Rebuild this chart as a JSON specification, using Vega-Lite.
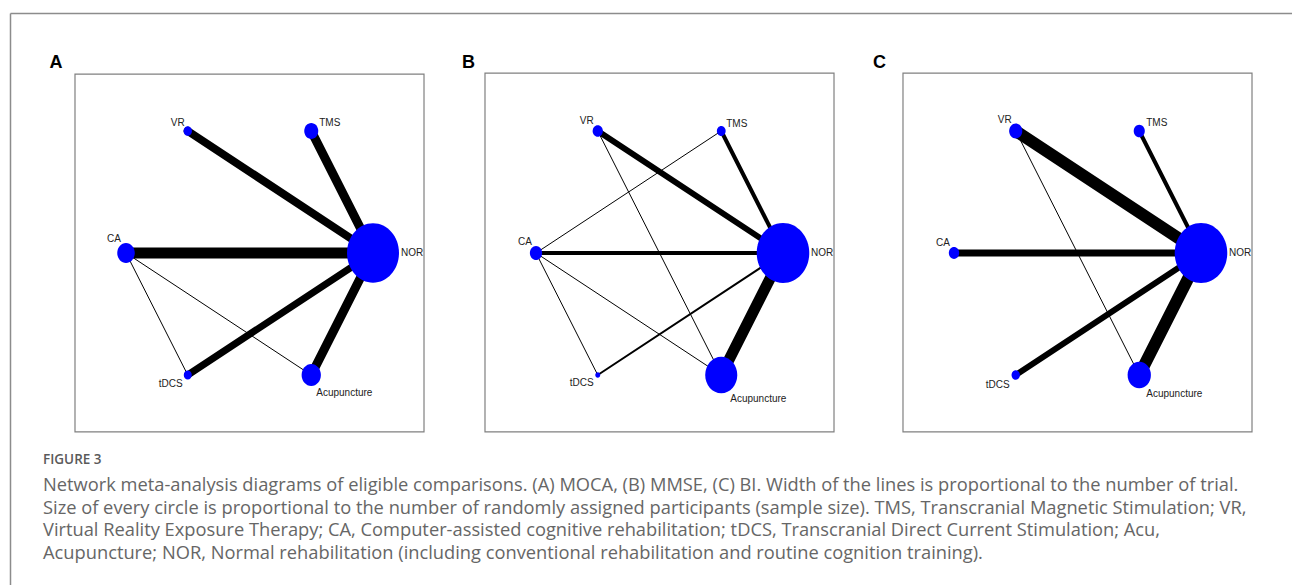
{
  "$schema": "https://vega.github.io/schema/vega-lite/v6.json",
  "width": 1292,
  "height": 585,
  "autosize": {"type": "fit", "contains": "padding"},
  "padding": {"left": 10, "top": 13, "right": 0, "bottom": 0},
  "background": "white",
  "config": {"view": {"stroke": null}},
  "datasets": {
    "layout": [
      {"node": "NOR", "x": 1, "y": 0},
      {"node": "TMS", "x": 0.5, "y": 0.866},
      {"node": "VR", "x": -0.5, "y": 0.866},
      {"node": "CA", "x": -1, "y": 0},
      {"node": "tDCS", "x": -0.5, "y": -0.866},
      {"node": "Acupuncture", "x": 0.5, "y": -0.866}
    ],
    "nodes": [
      {"panel": "A", "node": "NOR", "n": 880},
      {"panel": "A", "node": "TMS", "n": 64},
      {"panel": "A", "node": "VR", "n": 23},
      {"panel": "A", "node": "CA", "n": 100},
      {"panel": "A", "node": "tDCS", "n": 21},
      {"panel": "A", "node": "Acupuncture", "n": 121},
      {"panel": "B", "node": "NOR", "n": 900},
      {"panel": "B", "node": "TMS", "n": 25},
      {"panel": "B", "node": "VR", "n": 34},
      {"panel": "B", "node": "CA", "n": 49},
      {"panel": "B", "node": "tDCS", "n": 8},
      {"panel": "B", "node": "Acupuncture", "n": 335},
      {"panel": "C", "node": "NOR", "n": 900},
      {"panel": "C", "node": "TMS", "n": 40},
      {"panel": "C", "node": "VR", "n": 56},
      {"panel": "C", "node": "CA", "n": 35},
      {"panel": "C", "node": "tDCS", "n": 23},
      {"panel": "C", "node": "Acupuncture", "n": 177}
    ],
    "edges": [
      {"panel": "A", "from": "VR", "to": "NOR", "trials": 8},
      {"panel": "A", "from": "TMS", "to": "NOR", "trials": 9},
      {"panel": "A", "from": "CA", "to": "NOR", "trials": 11},
      {"panel": "A", "from": "tDCS", "to": "NOR", "trials": 7},
      {"panel": "A", "from": "Acupuncture", "to": "NOR", "trials": 9},
      {"panel": "A", "from": "CA", "to": "tDCS", "trials": 1},
      {"panel": "A", "from": "CA", "to": "Acupuncture", "trials": 1},
      {"panel": "B", "from": "VR", "to": "NOR", "trials": 6},
      {"panel": "B", "from": "TMS", "to": "NOR", "trials": 4},
      {"panel": "B", "from": "CA", "to": "NOR", "trials": 4},
      {"panel": "B", "from": "tDCS", "to": "NOR", "trials": 2},
      {"panel": "B", "from": "Acupuncture", "to": "NOR", "trials": 11},
      {"panel": "B", "from": "CA", "to": "TMS", "trials": 1},
      {"panel": "B", "from": "CA", "to": "tDCS", "trials": 1},
      {"panel": "B", "from": "CA", "to": "Acupuncture", "trials": 1},
      {"panel": "B", "from": "VR", "to": "Acupuncture", "trials": 1},
      {"panel": "C", "from": "VR", "to": "NOR", "trials": 12},
      {"panel": "C", "from": "TMS", "to": "NOR", "trials": 4},
      {"panel": "C", "from": "CA", "to": "NOR", "trials": 7},
      {"panel": "C", "from": "tDCS", "to": "NOR", "trials": 6},
      {"panel": "C", "from": "Acupuncture", "to": "NOR", "trials": 12},
      {"panel": "C", "from": "VR", "to": "Acupuncture", "trials": 1}
    ],
    "caption": [
      {"line": 1, "text": "Network meta-analysis diagrams of eligible comparisons. (A) MOCA, (B) MMSE, (C) BI. Width of the lines is proportional to the number of trial."},
      {"line": 2, "text": "Size of every circle is proportional to the number of randomly assigned participants (sample size). TMS, Transcranial Magnetic Stimulation; VR,"},
      {"line": 3, "text": "Virtual Reality Exposure Therapy; CA, Computer-assisted cognitive rehabilitation; tDCS, Transcranial Direct Current Stimulation; Acu,"},
      {"line": 4, "text": "Acupuncture; NOR, Normal rehabilitation (including conventional rehabilitation and routine cognition training)."}
    ]
  },
  "resolve": {"scale": {"x": "independent", "y": "independent"}},
  "layer": [
    {
      "layer": [
        {
          "data": {"values": [{"line": 0, "text": "FIGURE 3"}]},
          "mark": {"type": "text", "align": "left", "baseline": "middle", "font": "Open Sans", "fontSize": 13.5, "fontWeight": 600, "color": "#5a5a5a", "dy": -3},
          "encoding": {
            "x": {"datum": 0, "type": "quantitative", "scale": {"domain": [-33, 1249], "nice": false, "zero": false},
                  "axis": {"orient": "top", "domain": true, "domainColor": "#8c8c8c", "domainWidth": 1.5, "ticks": false, "labels": false, "grid": false, "title": null}},
            "y": {"field": "line", "type": "quantitative", "scale": {"domain": [-19.929, 5.381], "reverse": true, "nice": false, "zero": false},
                  "axis": {"orient": "left", "domain": true, "domainColor": "#8c8c8c", "domainWidth": 1.5, "ticks": false, "labels": false, "grid": false, "title": null}},
            "text": {"field": "text"}
          }
        },
        {
          "data": {"name": "caption"},
          "mark": {"type": "text", "align": "left", "baseline": "middle", "font": "Open Sans", "fontSize": 18.3, "color": "#666666"},
          "encoding": {
            "x": {"datum": 0, "type": "quantitative", "scale": {"domain": [-33, 1249], "nice": false, "zero": false}},
            "y": {"field": "line", "type": "quantitative", "scale": {"domain": [-19.929, 5.381], "reverse": true, "nice": false, "zero": false}},
            "text": {"field": "text"}
          }
        }
      ]
    },
    {
      "layer": [
        {"data": {"values": [{}]}, "mark": {"type": "rect", "fill": "transparent", "stroke": "#808080", "strokeWidth": 1.2},
         "encoding": {"x": {"datum": -1.413, "type": "quantitative", "scale": {"domain": [-1.93927, 8.4413], "nice": false, "zero": false}, "axis": null}, "x2": {"datum": 1.413},
                      "y": {"datum": 1.27, "type": "quantitative", "scale": {"domain": [-2.35628, 1.70334], "nice": false, "zero": false}, "axis": null}, "y2": {"datum": -1.27}}},
        {"data": {"values": [{}]}, "mark": {"type": "text", "text": "A", "font": "Liberation Sans", "fontWeight": "bold", "fontSize": 18, "align": "center", "baseline": "middle", "color": "black"},
         "encoding": {"x": {"datum": -1.567, "type": "quantitative"}, "y": {"datum": 1.348, "type": "quantitative"}}},
        {"data": {"name": "edges"},
         "transform": [{"filter": "datum.panel == 'A'"},
                       {"lookup": "from", "from": {"data": {"name": "layout"}, "key": "node", "fields": ["x", "y"]}, "as": ["x1", "y1"]},
                       {"lookup": "to", "from": {"data": {"name": "layout"}, "key": "node", "fields": ["x", "y"]}, "as": ["x2", "y2"]}],
         "mark": {"type": "rule", "color": "black", "strokeCap": "round"},
         "encoding": {"x": {"field": "x1", "type": "quantitative"}, "y": {"field": "y1", "type": "quantitative"}, "x2": {"field": "x2"}, "y2": {"field": "y2"},
                      "strokeWidth": {"field": "trials", "type": "quantitative", "scale": {"domain": [0, 12], "range": [0, 12]}, "legend": null}}},
        {"data": {"name": "nodes"},
         "transform": [{"filter": "datum.panel == 'A'"}, {"lookup": "node", "from": {"data": {"name": "layout"}, "key": "node", "fields": ["x", "y"]}}],
         "mark": {"type": "point", "filled": true, "color": "#0000ff", "opacity": 1, "strokeWidth": 0,
                  "shape": "M0.876,0C0.876,0.552,0.484,1,0,1C-0.484,1,-0.876,0.552,-0.876,0C-0.876,-0.552,-0.484,-1,0,-1C0.484,-1,0.876,-0.552,0.876,0Z"},
         "encoding": {"x": {"field": "x", "type": "quantitative"}, "y": {"field": "y", "type": "quantitative"},
                      "size": {"field": "n", "type": "quantitative", "scale": {"domain": [0, 1000], "range": [0, 4000]}, "legend": null}}},
        {"data": {"name": "layout"}, "transform": [{"filter": "datum.node == 'VR'"}],
         "mark": {"type": "text", "font": "Liberation Sans", "fontSize": 10, "color": "#222222", "align": "right", "baseline": "middle", "dx": -3, "dy": -8},
         "encoding": {"x": {"field": "x", "type": "quantitative"}, "y": {"field": "y", "type": "quantitative"}, "text": {"field": "node"}}},
        {"data": {"name": "layout"}, "transform": [{"filter": "datum.node == 'TMS'"}],
         "mark": {"type": "text", "font": "Liberation Sans", "fontSize": 10, "color": "#222222", "align": "left", "baseline": "middle", "dx": 8, "dy": -8},
         "encoding": {"x": {"field": "x", "type": "quantitative"}, "y": {"field": "y", "type": "quantitative"}, "text": {"field": "node"}}},
        {"data": {"name": "layout"}, "transform": [{"filter": "datum.node == 'CA'"}],
         "mark": {"type": "text", "font": "Liberation Sans", "fontSize": 10, "color": "#222222", "align": "right", "baseline": "middle", "dx": -5, "dy": -14},
         "encoding": {"x": {"field": "x", "type": "quantitative"}, "y": {"field": "y", "type": "quantitative"}, "text": {"field": "node"}}},
        {"data": {"name": "layout"}, "transform": [{"filter": "datum.node == 'NOR'"}],
         "mark": {"type": "text", "font": "Liberation Sans", "fontSize": 10, "color": "#222222", "align": "left", "baseline": "middle", "dx": 28, "dy": 0},
         "encoding": {"x": {"field": "x", "type": "quantitative"}, "y": {"field": "y", "type": "quantitative"}, "text": {"field": "node"}}},
        {"data": {"name": "layout"}, "transform": [{"filter": "datum.node == 'tDCS'"}],
         "mark": {"type": "text", "font": "Liberation Sans", "fontSize": 10, "color": "#222222", "align": "right", "baseline": "middle", "dx": -5, "dy": 9},
         "encoding": {"x": {"field": "x", "type": "quantitative"}, "y": {"field": "y", "type": "quantitative"}, "text": {"field": "node"}}},
        {"data": {"name": "layout"}, "transform": [{"filter": "datum.node == 'Acupuncture'"}],
         "mark": {"type": "text", "font": "Liberation Sans", "fontSize": 10, "color": "#222222", "align": "left", "baseline": "middle", "dx": 5, "dy": 18},
         "encoding": {"x": {"field": "x", "type": "quantitative"}, "y": {"field": "y", "type": "quantitative"}, "text": {"field": "node"}}}
      ]
    },
    {
      "layer": [
        {"data": {"values": [{}]}, "mark": {"type": "rect", "fill": "transparent", "stroke": "#808080", "strokeWidth": 1.2},
         "encoding": {"x": {"datum": -1.413, "type": "quantitative", "scale": {"domain": [-5.25911, 5.12146], "nice": false, "zero": false}, "axis": null}, "x2": {"datum": 1.413},
                      "y": {"datum": 1.277, "type": "quantitative", "scale": {"domain": [-2.35628, 1.70334], "nice": false, "zero": false}, "axis": null}, "y2": {"datum": -1.27}}},
        {"data": {"values": [{}]}, "mark": {"type": "text", "text": "B", "font": "Liberation Sans", "fontWeight": "bold", "fontSize": 18, "align": "center", "baseline": "middle", "color": "black"},
         "encoding": {"x": {"datum": -1.547, "type": "quantitative"}, "y": {"datum": 1.348, "type": "quantitative"}}},
        {"data": {"name": "edges"},
         "transform": [{"filter": "datum.panel == 'B'"},
                       {"lookup": "from", "from": {"data": {"name": "layout"}, "key": "node", "fields": ["x", "y"]}, "as": ["x1", "y1"]},
                       {"lookup": "to", "from": {"data": {"name": "layout"}, "key": "node", "fields": ["x", "y"]}, "as": ["x2", "y2"]}],
         "mark": {"type": "rule", "color": "black", "strokeCap": "round"},
         "encoding": {"x": {"field": "x1", "type": "quantitative"}, "y": {"field": "y1", "type": "quantitative"}, "x2": {"field": "x2"}, "y2": {"field": "y2"},
                      "strokeWidth": {"field": "trials", "type": "quantitative", "scale": {"domain": [0, 12], "range": [0, 12]}, "legend": null}}},
        {"data": {"name": "nodes"},
         "transform": [{"filter": "datum.panel == 'B'"}, {"lookup": "node", "from": {"data": {"name": "layout"}, "key": "node", "fields": ["x", "y"]}}],
         "mark": {"type": "point", "filled": true, "color": "#0000ff", "opacity": 1, "strokeWidth": 0,
                  "shape": "M0.876,0C0.876,0.552,0.484,1,0,1C-0.484,1,-0.876,0.552,-0.876,0C-0.876,-0.552,-0.484,-1,0,-1C0.484,-1,0.876,-0.552,0.876,0Z"},
         "encoding": {"x": {"field": "x", "type": "quantitative"}, "y": {"field": "y", "type": "quantitative"},
                      "size": {"field": "n", "type": "quantitative", "scale": {"domain": [0, 1000], "range": [0, 4000]}, "legend": null}}},
        {"data": {"name": "layout"}, "transform": [{"filter": "datum.node == 'VR'"}],
         "mark": {"type": "text", "font": "Liberation Sans", "fontSize": 10, "color": "#222222", "align": "right", "baseline": "middle", "dx": -4, "dy": -10},
         "encoding": {"x": {"field": "x", "type": "quantitative"}, "y": {"field": "y", "type": "quantitative"}, "text": {"field": "node"}}},
        {"data": {"name": "layout"}, "transform": [{"filter": "datum.node == 'TMS'"}],
         "mark": {"type": "text", "font": "Liberation Sans", "fontSize": 10, "color": "#222222", "align": "left", "baseline": "middle", "dx": 5, "dy": -7},
         "encoding": {"x": {"field": "x", "type": "quantitative"}, "y": {"field": "y", "type": "quantitative"}, "text": {"field": "node"}}},
        {"data": {"name": "layout"}, "transform": [{"filter": "datum.node == 'CA'"}],
         "mark": {"type": "text", "font": "Liberation Sans", "fontSize": 10, "color": "#222222", "align": "right", "baseline": "middle", "dx": -4, "dy": -11},
         "encoding": {"x": {"field": "x", "type": "quantitative"}, "y": {"field": "y", "type": "quantitative"}, "text": {"field": "node"}}},
        {"data": {"name": "layout"}, "transform": [{"filter": "datum.node == 'NOR'"}],
         "mark": {"type": "text", "font": "Liberation Sans", "fontSize": 10, "color": "#222222", "align": "left", "baseline": "middle", "dx": 28, "dy": 0},
         "encoding": {"x": {"field": "x", "type": "quantitative"}, "y": {"field": "y", "type": "quantitative"}, "text": {"field": "node"}}},
        {"data": {"name": "layout"}, "transform": [{"filter": "datum.node == 'tDCS'"}],
         "mark": {"type": "text", "font": "Liberation Sans", "fontSize": 10, "color": "#222222", "align": "right", "baseline": "middle", "dx": -4, "dy": 8},
         "encoding": {"x": {"field": "x", "type": "quantitative"}, "y": {"field": "y", "type": "quantitative"}, "text": {"field": "node"}}},
        {"data": {"name": "layout"}, "transform": [{"filter": "datum.node == 'Acupuncture'"}],
         "mark": {"type": "text", "font": "Liberation Sans", "fontSize": 10, "color": "#222222", "align": "left", "baseline": "middle", "dx": 9, "dy": 24},
         "encoding": {"x": {"field": "x", "type": "quantitative"}, "y": {"field": "y", "type": "quantitative"}, "text": {"field": "node"}}}
      ]
    },
    {
      "layer": [
        {"data": {"values": [{}]}, "mark": {"type": "rect", "fill": "transparent", "stroke": "#808080", "strokeWidth": 1.2},
         "encoding": {"x": {"datum": -1.413, "type": "quantitative", "scale": {"domain": [-8.64372, 1.73685], "nice": false, "zero": false}, "axis": null}, "x2": {"datum": 1.413},
                      "y": {"datum": 1.277, "type": "quantitative", "scale": {"domain": [-2.35628, 1.70334], "nice": false, "zero": false}, "axis": null}, "y2": {"datum": -1.27}}},
        {"data": {"values": [{}]}, "mark": {"type": "text", "text": "C", "font": "Liberation Sans", "fontWeight": "bold", "fontSize": 18, "align": "center", "baseline": "middle", "color": "black"},
         "encoding": {"x": {"datum": -1.603, "type": "quantitative"}, "y": {"datum": 1.348, "type": "quantitative"}}},
        {"data": {"name": "edges"},
         "transform": [{"filter": "datum.panel == 'C'"},
                       {"lookup": "from", "from": {"data": {"name": "layout"}, "key": "node", "fields": ["x", "y"]}, "as": ["x1", "y1"]},
                       {"lookup": "to", "from": {"data": {"name": "layout"}, "key": "node", "fields": ["x", "y"]}, "as": ["x2", "y2"]}],
         "mark": {"type": "rule", "color": "black", "strokeCap": "round"},
         "encoding": {"x": {"field": "x1", "type": "quantitative"}, "y": {"field": "y1", "type": "quantitative"}, "x2": {"field": "x2"}, "y2": {"field": "y2"},
                      "strokeWidth": {"field": "trials", "type": "quantitative", "scale": {"domain": [0, 12], "range": [0, 12]}, "legend": null}}},
        {"data": {"name": "nodes"},
         "transform": [{"filter": "datum.panel == 'C'"}, {"lookup": "node", "from": {"data": {"name": "layout"}, "key": "node", "fields": ["x", "y"]}}],
         "mark": {"type": "point", "filled": true, "color": "#0000ff", "opacity": 1, "strokeWidth": 0,
                  "shape": "M0.876,0C0.876,0.552,0.484,1,0,1C-0.484,1,-0.876,0.552,-0.876,0C-0.876,-0.552,-0.484,-1,0,-1C0.484,-1,0.876,-0.552,0.876,0Z"},
         "encoding": {"x": {"field": "x", "type": "quantitative"}, "y": {"field": "y", "type": "quantitative"},
                      "size": {"field": "n", "type": "quantitative", "scale": {"domain": [0, 1000], "range": [0, 4000]}, "legend": null}}},
        {"data": {"name": "layout"}, "transform": [{"filter": "datum.node == 'VR'"}],
         "mark": {"type": "text", "font": "Liberation Sans", "fontSize": 10, "color": "#222222", "align": "right", "baseline": "middle", "dx": -4, "dy": -11},
         "encoding": {"x": {"field": "x", "type": "quantitative"}, "y": {"field": "y", "type": "quantitative"}, "text": {"field": "node"}}},
        {"data": {"name": "layout"}, "transform": [{"filter": "datum.node == 'TMS'"}],
         "mark": {"type": "text", "font": "Liberation Sans", "fontSize": 10, "color": "#222222", "align": "left", "baseline": "middle", "dx": 7, "dy": -8},
         "encoding": {"x": {"field": "x", "type": "quantitative"}, "y": {"field": "y", "type": "quantitative"}, "text": {"field": "node"}}},
        {"data": {"name": "layout"}, "transform": [{"filter": "datum.node == 'CA'"}],
         "mark": {"type": "text", "font": "Liberation Sans", "fontSize": 10, "color": "#222222", "align": "right", "baseline": "middle", "dx": -4, "dy": -10},
         "encoding": {"x": {"field": "x", "type": "quantitative"}, "y": {"field": "y", "type": "quantitative"}, "text": {"field": "node"}}},
        {"data": {"name": "layout"}, "transform": [{"filter": "datum.node == 'NOR'"}],
         "mark": {"type": "text", "font": "Liberation Sans", "fontSize": 10, "color": "#222222", "align": "left", "baseline": "middle", "dx": 28, "dy": 0},
         "encoding": {"x": {"field": "x", "type": "quantitative"}, "y": {"field": "y", "type": "quantitative"}, "text": {"field": "node"}}},
        {"data": {"name": "layout"}, "transform": [{"filter": "datum.node == 'tDCS'"}],
         "mark": {"type": "text", "font": "Liberation Sans", "fontSize": 10, "color": "#222222", "align": "right", "baseline": "middle", "dx": -6, "dy": 10},
         "encoding": {"x": {"field": "x", "type": "quantitative"}, "y": {"field": "y", "type": "quantitative"}, "text": {"field": "node"}}},
        {"data": {"name": "layout"}, "transform": [{"filter": "datum.node == 'Acupuncture'"}],
         "mark": {"type": "text", "font": "Liberation Sans", "fontSize": 10, "color": "#222222", "align": "left", "baseline": "middle", "dx": 7, "dy": 19},
         "encoding": {"x": {"field": "x", "type": "quantitative"}, "y": {"field": "y", "type": "quantitative"}, "text": {"field": "node"}}}
      ]
    }
  ]
}
